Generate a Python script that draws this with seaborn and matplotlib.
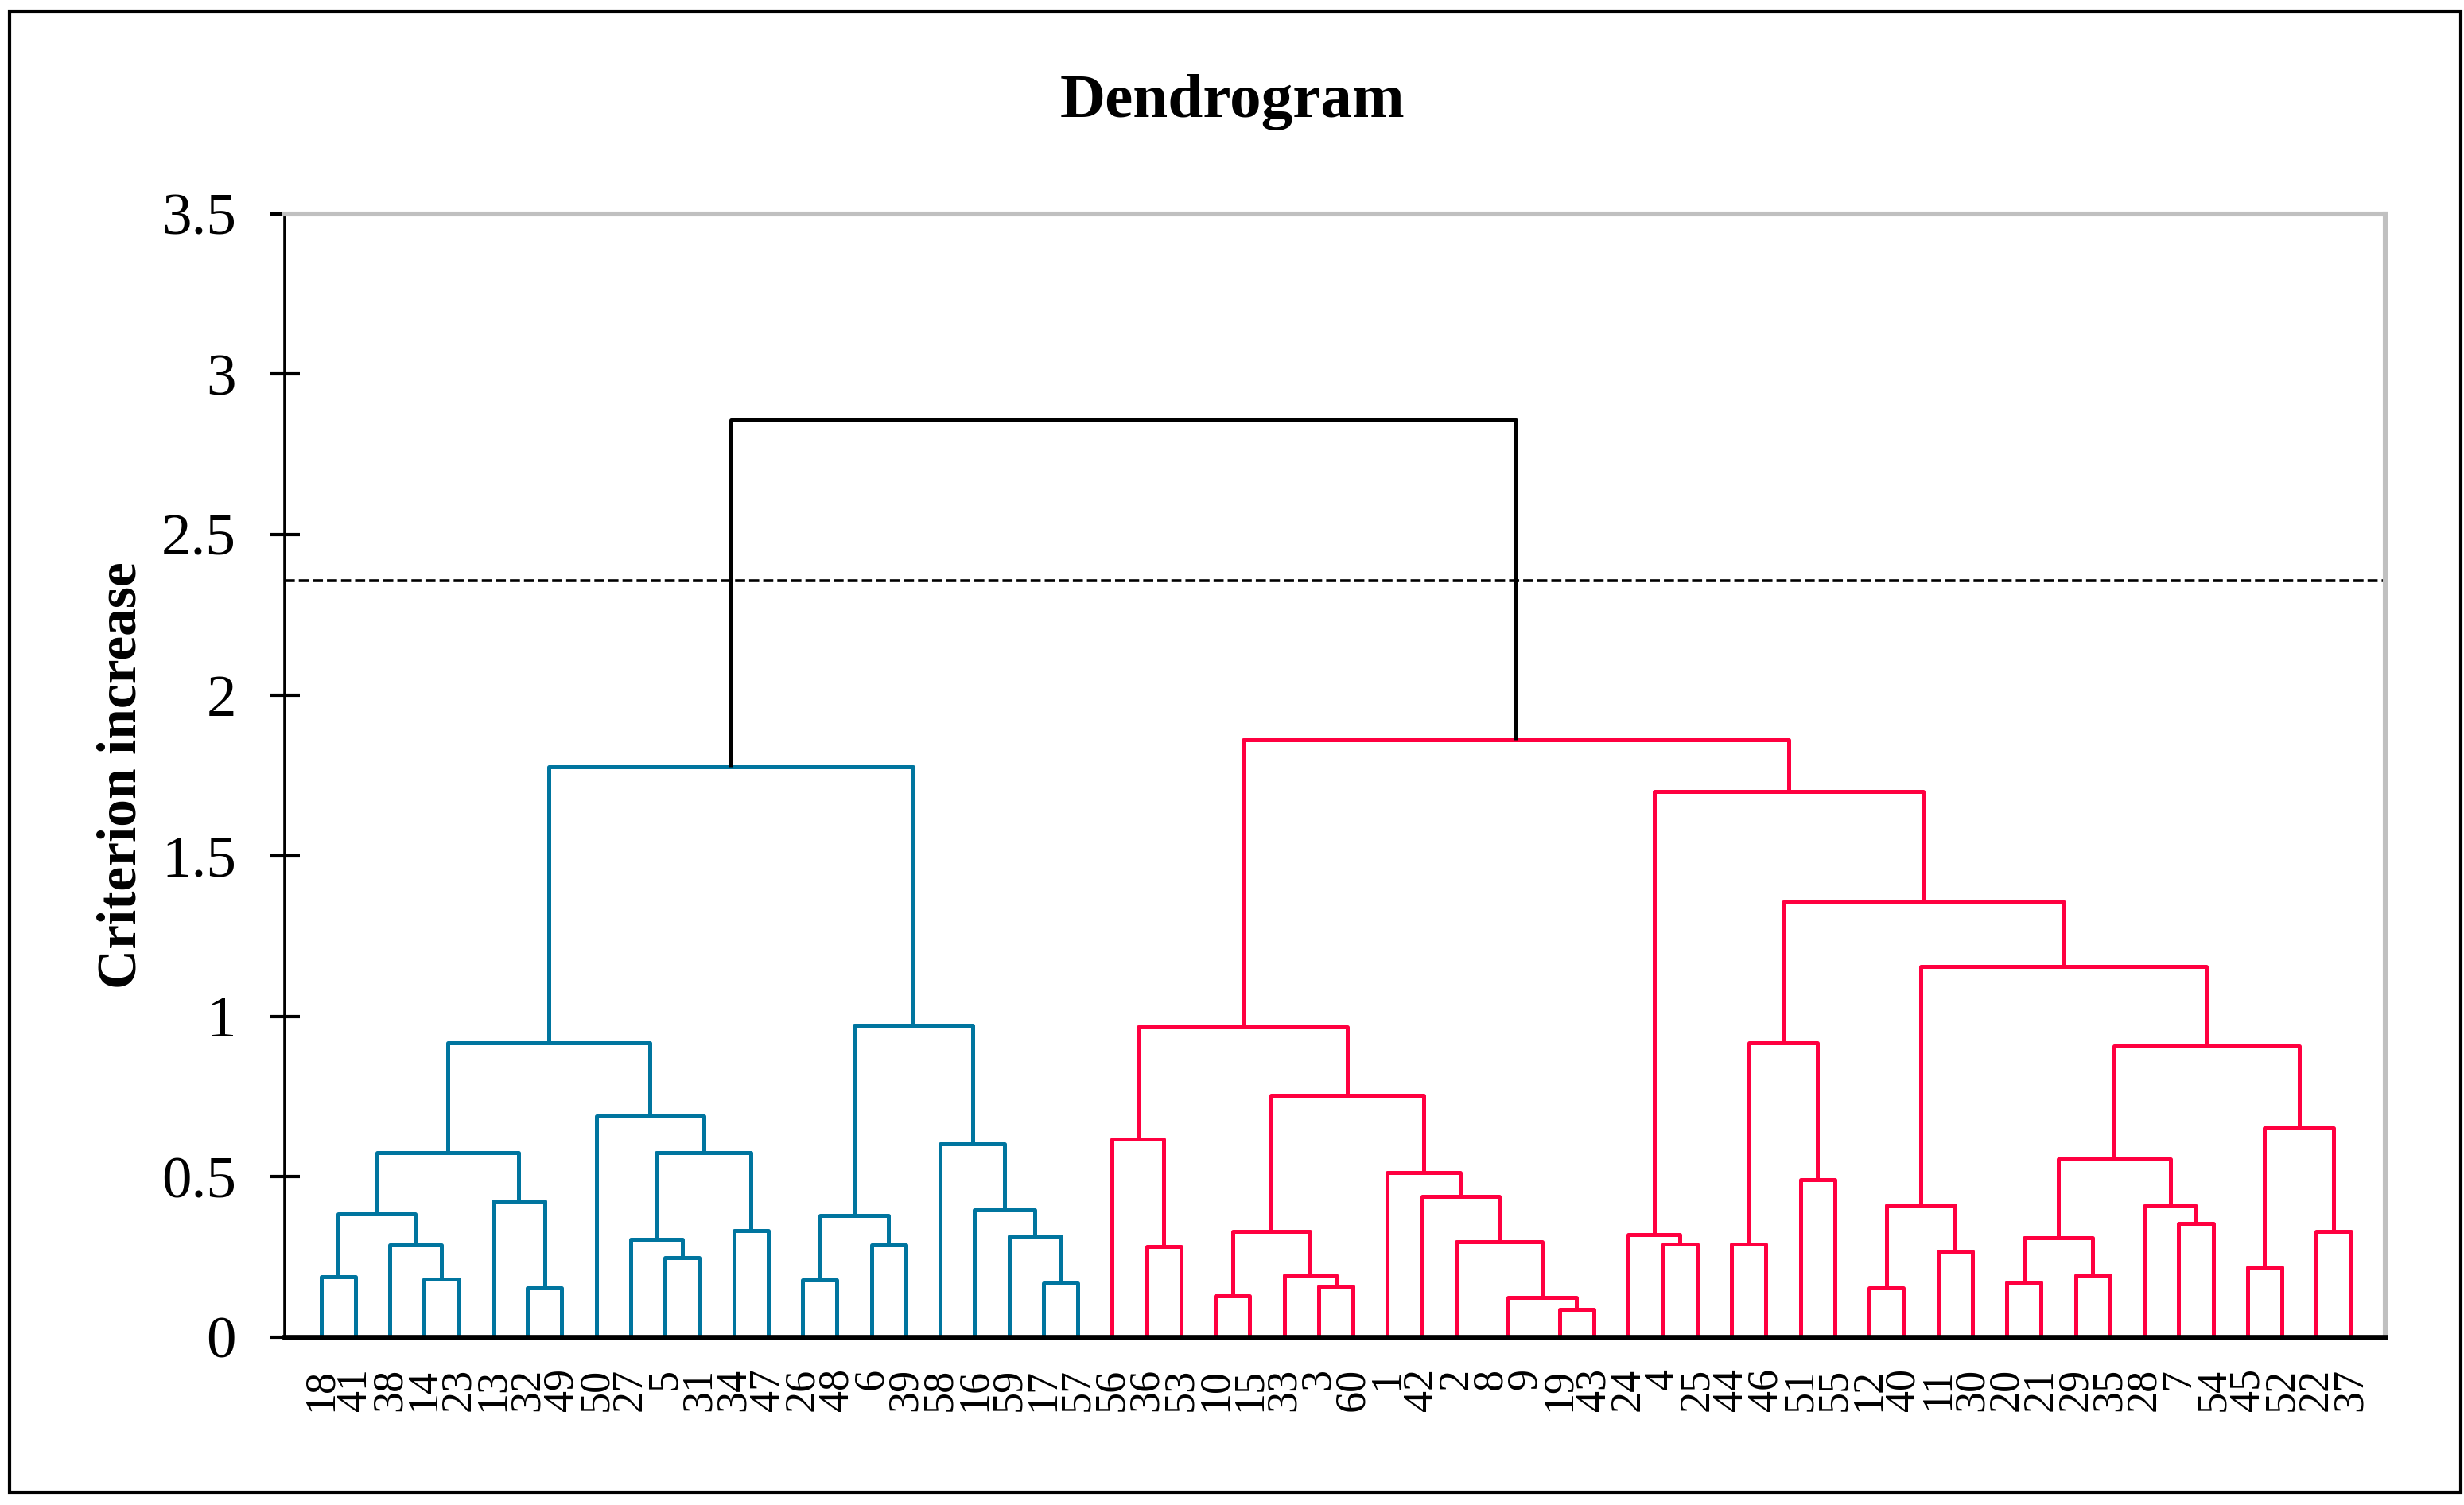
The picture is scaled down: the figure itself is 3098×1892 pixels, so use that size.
import numpy as np
import pandas as pd
import matplotlib
matplotlib.use("Agg")
import matplotlib.pyplot as plt
import seaborn as sns
from matplotlib.patches import Rectangle

# leaf order along the x axis
leaf_order = [18, 41, 38, 14, 23, 13, 32, 49, 50, 27, 5, 31, 34, 47, 26, 48, 6, 39, 58, 16,
              59, 17, 57, 56, 36, 53, 10, 15, 33, 3, 60, 1, 42, 2, 8, 9, 19, 43, 24, 4,
              25, 44, 46, 51, 55, 12, 40, 11, 30, 20, 21, 29, 35, 28, 7, 54, 45, 52, 22, 37]

# merges: left child, right child, height (ints = leaves, "mN" = earlier merge)
merge_name = ["m%d" % i for i in range(1, 60)]
merge_left = [18, 14, 38, "m1", 32, 13, "m4", 5, 27, 34, "m9", 50, "m7", 26, 6, "m14", 17, 59, 16, 58,
              "m16", "m13",
              36, 56, 10, 3, 33, "m25", 8, 19, "m29", 2, 42, 1, "m28", "m24", 4, 24, 44, 51,
              "m39", 12, 11, "m42", 20, 29, "m45", 7, 28, "m47", 45, 22, "m51", "m50", "m44", "m41",
              "m38", "m36", "m22"]
merge_right = [41, 23, "m2", "m3", 49, "m5", "m6", 31, "m8", 47, "m10", "m11", "m12", 48, 39, "m15", 57,
               "m17", "m18", "m19", "m20", "m21",
               53, "m23", 15, 60, "m26", "m27", 9, 43, "m30", "m31", "m32", "m33", "m34", "m35", 25,
               "m37", 46, 55, "m40", 40, 30, "m43", 21, 35, "m46", 54, "m48", "m49", 52, 37, "m52",
               "m53", "m54", "m55", "m56", "m57", "m58"]
merge_height = [0.188, 0.182, 0.287, 0.384, 0.153, 0.424, 0.576, 0.247, 0.306, 0.332, 0.576, 0.690,
                0.917, 0.178, 0.287, 0.380, 0.168, 0.315, 0.396, 0.603, 0.972, 1.777,
                0.282, 0.616, 0.129, 0.159, 0.194, 0.330, 0.0, 0.088, 0.124, 0.297, 0.439, 0.512,
                0.753, 0.967, 0.291, 0.319, 0.291, 0.490, 0.918, 0.153, 0.268, 0.412, 0.170, 0.193,
                0.310, 0.355, 0.409, 0.556, 0.217, 0.329, 0.653, 0.908, 1.154, 1.355, 1.699, 1.861,
                2.857]

cut_height = 2.356
cluster_colors = ["#00759F", "#FF0040"]

sns.set_theme(style="white")
plt.rcParams["font.family"] = ["Liberation Serif", "DejaVu Serif"]
plt.rcParams["text.color"] = "black"
plt.rcParams["axes.labelcolor"] = "black"
plt.rcParams["xtick.color"] = "black"
plt.rcParams["ytick.color"] = "black"

fig = plt.figure(figsize=(15.49, 9.46), dpi=200)
ax = fig.add_axes([0.1156, 0.1115, 0.968 - 0.1156, 0.858 - 0.1115])

pos = {leaf: i for i, leaf in enumerate(leaf_order)}
height = {leaf: 0.0 for leaf in leaf_order}
children = {}
for name, l, r, h in zip(merge_name, merge_left, merge_right, merge_height):
    pos[name] = (pos[l] + pos[r]) / 2
    height[name] = h
    children[name] = (l, r)

# colour each link: above the cut black, below it by cluster
color = {}
palette = iter(cluster_colors)


def paint(node, c):
    if node not in children:
        return
    h = height[node]
    if h > cut_height:
        color[node] = "black"
        for ch in children[node]:
            if ch in children and height[ch] <= cut_height:
                paint(ch, next(palette))
            else:
                paint(ch, "black")
    else:
        color[node] = c
        for ch in children[node]:
            paint(ch, c)


paint(merge_name[-1], "black")

for name in merge_name:
    l, r = children[name]
    ax.plot([pos[l], pos[l], pos[r], pos[r]],
            [height[l], height[name], height[name], height[r]],
            color=color[name], lw=1.8, solid_capstyle="butt", zorder=3)

ax.axhline(cut_height, color="black", lw=1.3, ls=(0, (3.5, 1.4)), zorder=2)

ax.set_xlim(-1.05, 60.0)
ax.set_ylim(0, 3.5)
ax.set_xticks(range(len(leaf_order)))
ax.set_xticklabels([str(v) for v in leaf_order], rotation=90, fontsize=19.5, color="black")
ax.tick_params(axis="x", length=0, pad=14)
ax.set_yticks(np.arange(0, 3.51, 0.5))
ax.set_yticklabels(["0", "0.5", "1", "1.5", "2", "2.5", "3", "3.5"], fontsize=27, color="black")
ax.tick_params(axis="y", direction="inout", length=14, width=1.5, color="black", pad=15, left=True)

for side in ["top", "right"]:
    ax.spines[side].set_color("#C0C0C0")
    ax.spines[side].set_linewidth(2.2)
ax.spines["left"].set_color("black")
ax.spines["left"].set_linewidth(1.3)
ax.spines["bottom"].set_color("black")
ax.spines["bottom"].set_linewidth(2.4)
ax.spines["bottom"].set_zorder(4)

ax.set_ylabel("Criterion increase", fontsize=25, fontweight="bold", color="black")
ax.yaxis.set_label_coords(-0.0655, 0.5)

fig.text(0.5, 0.932, "Dendrogram", ha="center", va="center", fontsize=28.5,
         fontweight="bold", color="black")

fig.patches.append(Rectangle((0.0039, 0.0085), 0.9948, 0.9841, transform=fig.transFigure,
                             fill=False, edgecolor="black", lw=1.5))

fig.savefig("out.png", dpi=200)
